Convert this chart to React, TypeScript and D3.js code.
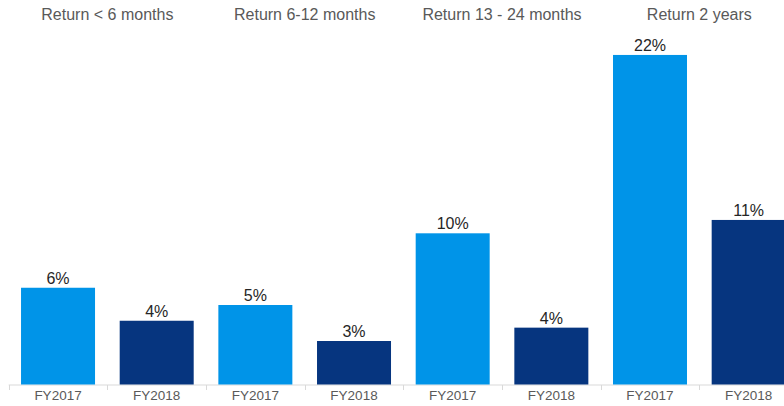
import { useEffect, useRef } from "react";
import * as d3 from "d3";

const groups = ["Return < 6 months", "Return 6-12 months", "Return 13 - 24 months", "Return 2 years"];
const years = ["FY2017", "FY2018"];
const values = [6.45, 4.25, 5.3, 2.9, 10.08, 3.79, 21.97, 10.97];

const colors = { FY2017: "#0094e8", FY2018: "#06357f" };
const width = 784;
const height = 406;
const baseline = 384.5;

const App = () => {
  const svgRef = useRef<SVGSVGElement | null>(null);

  useEffect(() => {
    if (!svgRef.current) return;
    const svg = d3.select(svgRef.current);
    svg.selectAll("*").remove();

    const bars = groups.flatMap((group, gi) =>
      years.map((year, yi) => ({
        key: `${gi}-${year}`,
        group,
        year,
        value: values[gi * years.length + yi],
      }))
    );

    const x = d3
      .scaleBand()
      .domain(bars.map((b) => b.key))
      .range([8.7, 798])
      .paddingInner(0.25)
      .paddingOuter(0.125);

    const y = d3.scaleLinear().domain([0, 25]).range([baseline, baseline - 375]);

    const step = x.step();
    const start = x.range()[0];

    // axis line + ticks between bars
    svg
      .append("line")
      .attr("x1", start)
      .attr("x2", width)
      .attr("y1", baseline + 0.5)
      .attr("y2", baseline + 0.5)
      .attr("stroke", "#d9d9d9")
      .attr("stroke-width", 1);

    svg
      .append("g")
      .selectAll("line")
      .data(d3.range(bars.length + 1))
      .join("line")
      .attr("x1", (i) => Math.round(start + i * step) + 0.5)
      .attr("x2", (i) => Math.round(start + i * step) + 0.5)
      .attr("y1", baseline + 0.5)
      .attr("y2", baseline + 5.5)
      .attr("stroke", "#d9d9d9");

    svg
      .append("g")
      .selectAll("rect")
      .data(bars)
      .join("rect")
      .attr("x", (d) => x(d.key)!)
      .attr("width", x.bandwidth())
      .attr("y", (d) => y(d.value))
      .attr("height", (d) => baseline - y(d.value))
      .attr("fill", (d) => colors[d.year as keyof typeof colors]);

    svg
      .append("g")
      .attr("text-anchor", "middle")
      .selectAll("text")
      .data(bars)
      .join("text")
      .attr("x", (d) => x(d.key)! + x.bandwidth() / 2)
      .attr("y", (d) => y(d.value) - 4)
      .attr("fill", "#262626")
      .style("font-size", "16px")
      .text((d) => `${Math.round(d.value)}%`);

    svg
      .append("g")
      .attr("text-anchor", "middle")
      .selectAll("text")
      .data(bars)
      .join("text")
      .attr("x", (d) => x(d.key)! + x.bandwidth() / 2)
      .attr("y", 400)
      .attr("fill", "#595959")
      .style("font-size", "13.5px")
      .text((d) => d.year);

    svg
      .append("g")
      .attr("text-anchor", "middle")
      .selectAll("text")
      .data(groups)
      .join("text")
      .attr("x", (_, gi) => start + (gi * 2 + 1) * step)
      .attr("y", 20)
      .attr("fill", "#595959")
      .style("font-size", "16px")
      .text((d) => d);
  }, []);

  return (
    <div style={{ position: "fixed", left: 0, top: 0, width, height, background: "#ffffff" }}>
      <svg
        ref={svgRef}
        width={width}
        height={height}
        style={{ display: "block", fontFamily: "'Liberation Sans', Arial, sans-serif" }}
      />
    </div>
  );
};

export default App;
